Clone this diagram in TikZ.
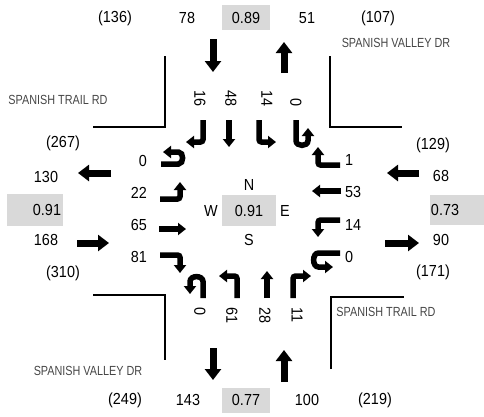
\documentclass[tikz,border=0pt]{standalone}
\usepackage{fontspec}
\setmainfont{Liberation Sans}
\newfontfamily\numfamily[FakeStretch=0.9]{Liberation Sans}
\newfontfamily\roadfamily[FakeStretch=0.82]{Liberation Sans}
\usetikzlibrary{arrows.meta}
\definecolor{boxgray}{RGB}{217,217,217}
\definecolor{roadgray}{RGB}{70,70,70}
\begin{document}
\begin{tikzpicture}[x=1pt,y=-1pt,
 num/.style={font=\numfamily\fontsize{16}{17}\selectfont, inner sep=0pt},
 road/.style={font=\roadfamily\fontsize{13.2}{14}\selectfont, text=roadgray, inner sep=0pt},
 gbox/.style={fill=boxgray, draw=none},
 bigarrow/.style={line width=7pt, -{Triangle[width=16pt,length=11pt]}},
 mvarrow/.style={line width=5.5pt, -{Triangle[width=12pt,length=8pt]}, rounded corners=2.5pt},
 curbline/.style={line width=1.8pt, black}]
\useasboundingbox (0,0) rectangle (484,416);

% gray boxes
\fill[gbox] (222,5) rectangle (270,30);
\fill[gbox] (222,388) rectangle (270,413);
\fill[gbox] (7,194) rectangle (63,226);
\fill[gbox] (430,195) rectangle (484,225);
\fill[gbox] (222,195) rectangle (276,226);

% top row
\node[num] (t136) at (115,18) {(136)};
\node[num] (t78) at (187,18) {78};
\node[num] (t089) at (246,18) {0.89};
\node[num] (t51) at (307,18) {51};
\node[num] (t107) at (378,18) {(107)};
% bottom row
\node[num] (b249) at (125,400) {(249)};
\node[num] (b143) at (188,400) {143};
\node[num] (b077) at (246,400) {0.77};
\node[num] (b100) at (307,400) {100};
\node[num] (b219) at (375,400) {(219)};
% left
\node[num] (l267) at (63,143) {(267)};
\node[num] (l130) at (46,177) {130};
\node[num] (l091) at (47,210) {0.91};
\node[num] (l168) at (46,240) {168};
\node[num] (l310) at (63,273) {(310)};
% right
\node[num] (r129) at (433,145) {(129)};
\node[num] (r68) at (441,176) {68};
\node[num] (r073) at (445,210) {0.73};
\node[num] (r90) at (441,240) {90};
\node[num] (r171) at (433,272) {(171)};
% center
\node[num] (cN) at (249,185) {N};
\node[num] (cW) at (211,211) {W};
\node[num] (c091) at (249,211) {0.91};
\node[num] (cE) at (285,211) {E};
\node[num] (cS) at (249,240) {S};

% EB movement labels
\node[num, anchor=east] (eb0) at (147,161) {0};
\node[num, anchor=east] (eb22) at (147,193) {22};
\node[num, anchor=east] (eb65) at (147,225) {65};
\node[num, anchor=east] (eb81) at (147,257) {81};
% WB movement labels
\node[num, anchor=west] (wb1) at (345,160) {1};
\node[num, anchor=west] (wb53) at (345,192) {53};
\node[num, anchor=west] (wb14) at (345,225) {14};
\node[num, anchor=west] (wb0) at (345,257) {0};
% SB movement labels
\node[num, rotate=-90, anchor=east] (sb16) at (200,107) {16};
\node[num, rotate=-90, anchor=east] (sb48) at (231,107) {48};
\node[num, rotate=-90, anchor=east] (sb14) at (267,107) {14};
\node[num, rotate=-90, anchor=east] (sb0) at (296,107) {0};
% NB movement labels
\node[num, rotate=-90, anchor=west] (nb0) at (200,307) {0};
\node[num, rotate=-90, anchor=west] (nb61) at (232,307) {61};
\node[num, rotate=-90, anchor=west] (nb28) at (265,307) {28};
\node[num, rotate=-90, anchor=west] (nb11) at (297,307) {11};

% road names
\node[road] (rdA) at (58,100) {SPANISH TRAIL RD};
\node[road] (rdB) at (396,43) {SPANISH VALLEY DR};
\node[road] (rdC) at (88,371) {SPANISH VALLEY DR};
\node[road] (rdD) at (386,312) {SPANISH TRAIL RD};

% curb corners
\draw[curbline] (93,127) -- (165,127) -- (165,56);
\draw[curbline] (330,56) -- (330,127) -- (402,127);
\draw[curbline] (93,295) -- (165,295) -- (165,360);
\draw[curbline] (331,369) -- (331,297) -- (404,297);

% approach / departure arrows
\draw[bigarrow] (213,39) -- (213,72);
\draw[bigarrow] (284,73) -- (284,42);
\draw[bigarrow] (111,173) -- (78,173);
\draw[bigarrow] (77,243) -- (109,243);
\draw[bigarrow] (419,173) -- (387,173);
\draw[bigarrow] (385,243) -- (419,243);
\draw[bigarrow] (213,348) -- (213,380);
\draw[bigarrow] (284,382) -- (284,350);

% SB movements
\draw[mvarrow] (203,120) -- (203,142) -- (186,142);
\draw[mvarrow] (229,120) -- (229,147);
\draw[mvarrow] (259,120) -- (259,142) -- (276,142);
\draw[mvarrow] (296,120) -- (296,138) .. controls (296,147) and (308,147) .. (308,138) -- (308,128);
% EB movements
\draw[mvarrow] (161,164) -- (176,164) .. controls (184,164) and (184,152) .. (176,152) -- (163,152);
\draw[mvarrow] (160,199) -- (180,199) -- (180,182);
\draw[mvarrow] (159,229) -- (186,229);
\draw[mvarrow] (160,255) -- (180,255) -- (180,273);
% NB movements
\draw[mvarrow] (203,298) -- (203,284) .. controls (203,275) and (190,275) .. (190,284) -- (190,294);
\draw[mvarrow] (237,298) -- (237,276) -- (219,276);
\draw[mvarrow] (267,298) -- (267,271);
\draw[mvarrow] (293,298) -- (293,276) -- (311,276);
% WB movements
\draw[mvarrow] (340,165) -- (318,165) -- (318,147);
\draw[mvarrow] (341,191) -- (312,191);
\draw[mvarrow] (340,220) -- (318,220) -- (318,237);
\draw[mvarrow] (340,253) -- (321,253) .. controls (312,253) and (312,267) .. (321,267) -- (333,267);
\end{tikzpicture}
\end{document}
